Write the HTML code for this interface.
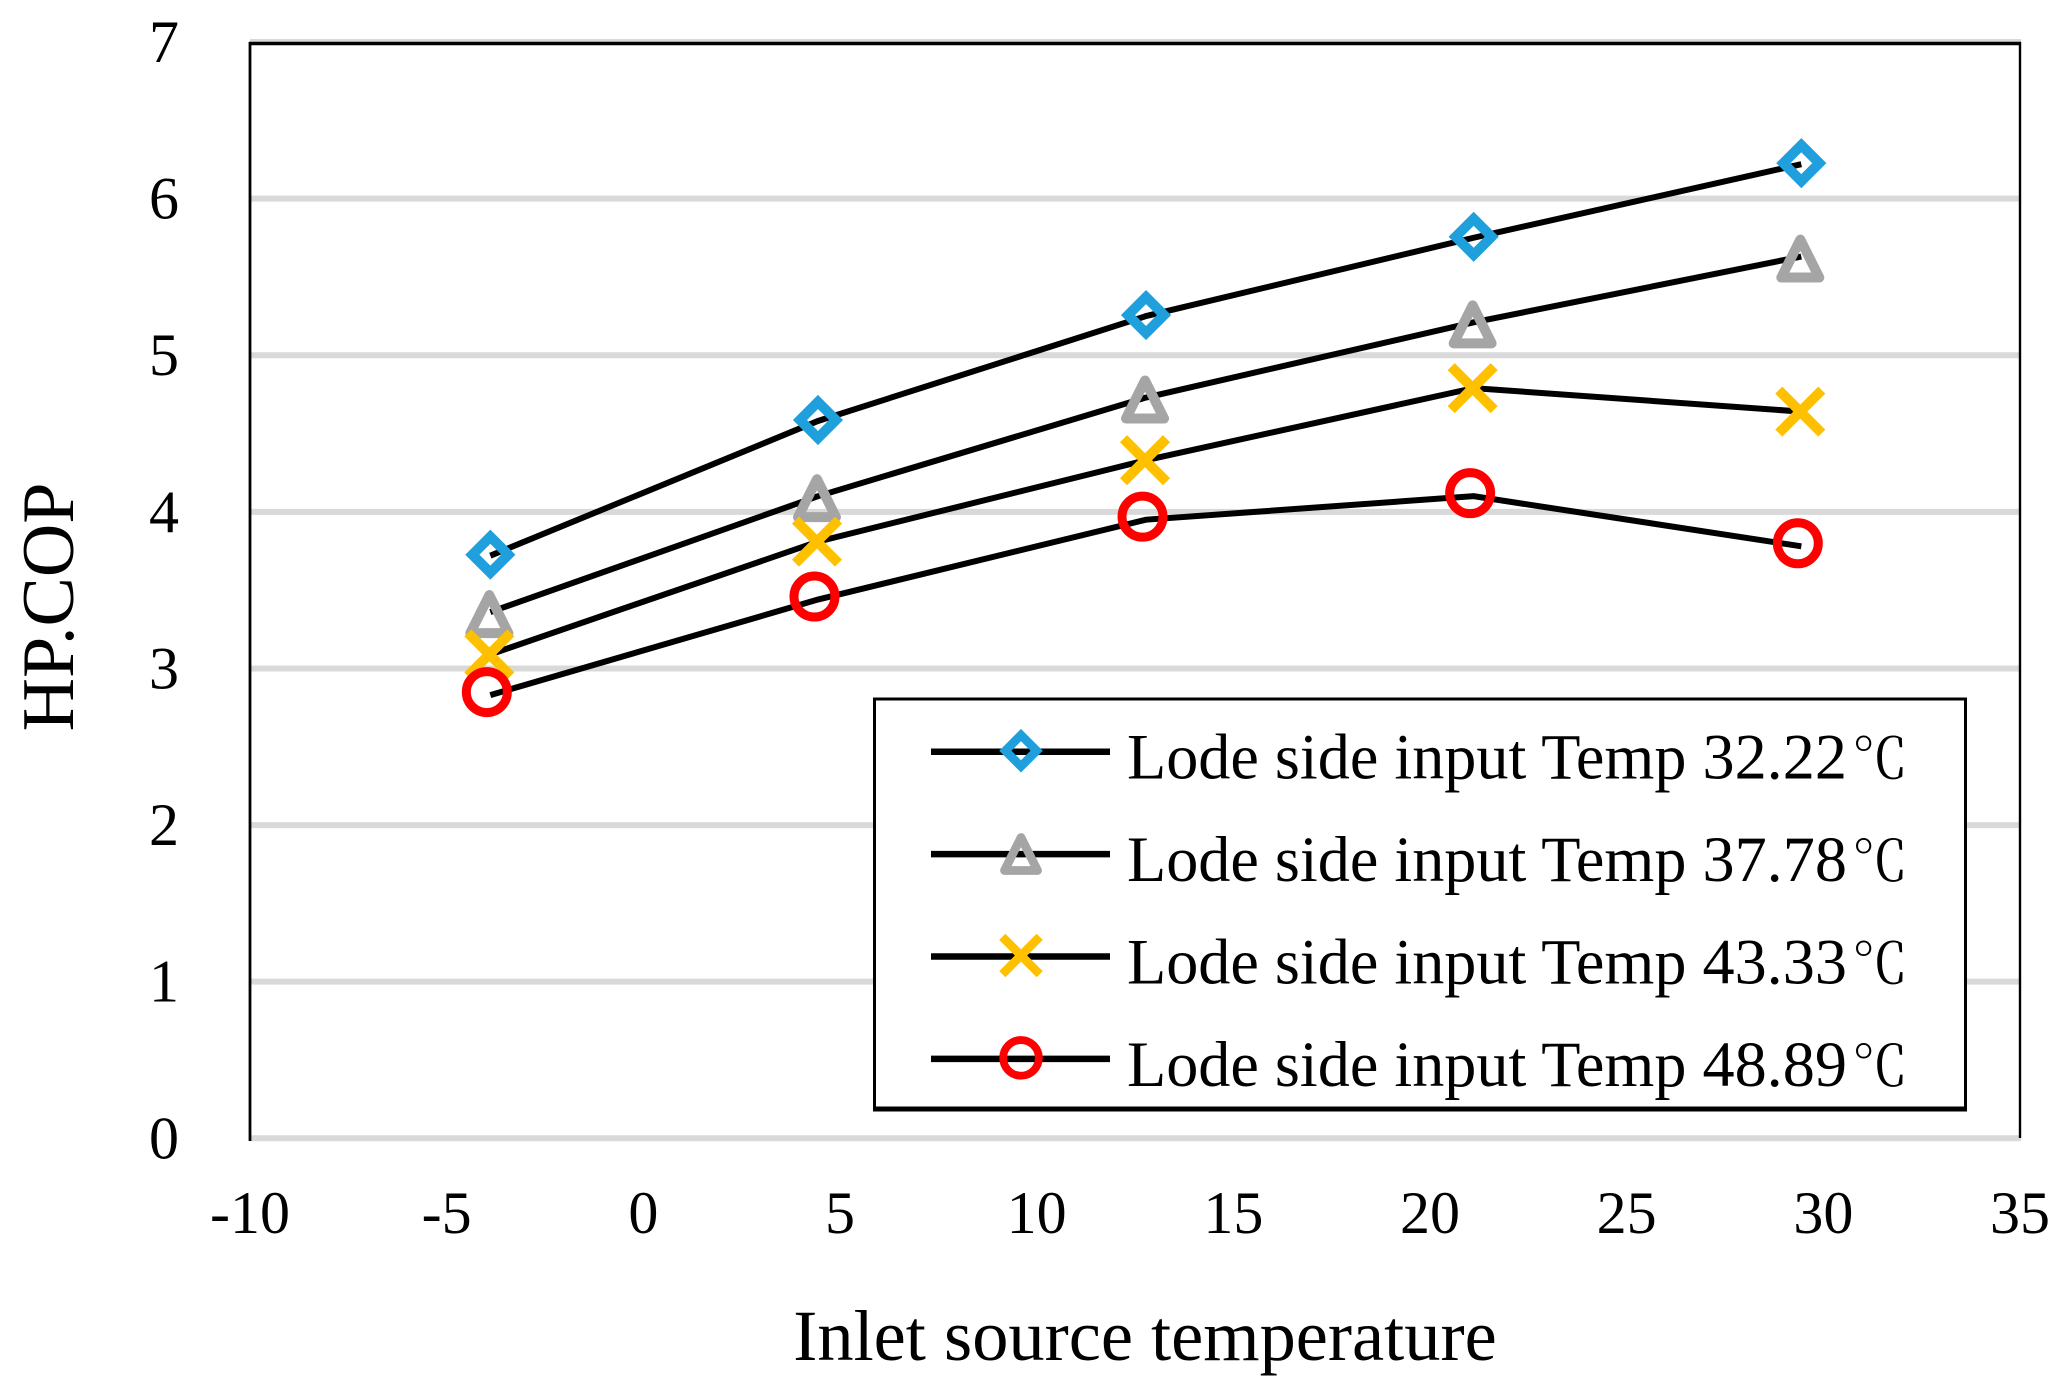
<!DOCTYPE html>
<html lang="en">
<head>
<meta charset="utf-8">
<title>HP.COP vs inlet source temperature</title>
<style>
  html, body { margin: 0; padding: 0; background: #fff; }
  svg { display: block; }
  text { font-family: "Liberation Serif", "Noto Serif CJK SC", serif; fill: #000; }
</style>
</head>
<body>
<svg id="chart" xmlns="http://www.w3.org/2000/svg" width="2060" height="1391" viewBox="0 0 2060 1391">
  <rect x="0" y="0" width="2060" height="1391" fill="#ffffff"/>
  <g id="grid"></g>
  <g id="frame"></g>
  <g id="yticks"></g>
  <g id="xticks"></g>
  <g id="series"></g>
  <g id="legend"></g>
  <text x="1145" y="1360" font-size="72.4" text-anchor="middle">Inlet source temperature</text>
  <text transform="translate(73,607) rotate(-90)" font-size="74" text-anchor="middle">HP.COP</text>
</svg>
<script>
const xTickLabels = [-10, -5, 0, 5, 10, 15, 20, 25, 30, 35];
const yTickLabels = [0, 1, 2, 3, 4, 5, 6, 7];
const sourceTemps = [-3.89, 4.44, 12.78, 21.11, 29.44];
const cop3222 = [3.72, 4.58, 5.25, 5.75, 6.22];
const cop3778 = [3.36, 4.10, 4.73, 5.21, 5.63];
const cop4333 = [3.09, 3.81, 4.33, 4.79, 4.64];
const cop4889 = [2.83, 3.44, 3.95, 4.10, 3.78];
const legendLabels = [
  'Lode side input Temp 32.22',
  'Lode side input Temp 37.78',
  'Lode side input Temp 43.33',
  'Lode side input Temp 48.89'
];
const legendUnit = '℃';

const NS = 'http://www.w3.org/2000/svg';
const plot = { left: 250, right: 2020, top: 42, bottom: 1138.3 };
const xMin = -10, xMax = 35, yMin = 0, yMax = 7;
function xScale(v) { return plot.left + (v - xMin) / (xMax - xMin) * (plot.right - plot.left); }
function yScale(v) { return plot.bottom - (v - yMin) / (yMax - yMin) * (plot.bottom - plot.top); }
function make(tag, attrs, parent) {
  const el = document.createElementNS(NS, tag);
  for (const k in attrs) el.setAttribute(k, attrs[k]);
  parent.appendChild(el);
  return el;
}

const gridG = document.getElementById('grid');
yTickLabels.forEach(function (t) {
  const ln = make('line', { x1: plot.left, x2: plot.right + 1, y1: yScale(t), y2: yScale(t), stroke: '#d9d9d9', 'stroke-width': 6 }, gridG);
  
  
});

const frameG = document.getElementById('frame');
const frameTop = make('line', { x1: 249, x2: 2021, y1: 43.5, y2: 43.5, stroke: '#000', 'stroke-width': 3.5 }, frameG);


const frameLeft = make('line', { x1: 250, x2: 250, y1: 42, y2: 1141, stroke: '#000', 'stroke-width': 2.8 }, frameG);


const frameRight = make('line', { x1: 2020, x2: 2020, y1: 42, y2: 1138, stroke: '#000', 'stroke-width': 2.4 }, frameG);



const yG = document.getElementById('yticks');
yTickLabels.forEach(function (t) {
  const tx = make('text', { x: 164, y: yScale(t) + 20, 'font-size': 60, 'text-anchor': 'middle' }, yG);
  tx.textContent = t;
  
  
});

const xG = document.getElementById('xticks');
xTickLabels.forEach(function (t) {
  const tx = make('text', { x: xScale(t), y: 1233, 'font-size': 60, 'text-anchor': 'middle' }, xG);
  tx.textContent = t;
  
  
});

function drawMarker(kind, cx, cy, s, parent) {
  const g = make('g', { transform: 'translate(' + cx + ',' + cy + ') scale(' + s + ')', fill: 'none' }, parent);
  if (kind === 'diamond') {
    make('polygon', { points: '0,-18 18,0 0,18 -18,0', stroke: '#1f9fdc', 'stroke-width': 10 }, g);
  } else if (kind === 'triangle') {
    make('polygon', { points: '0,-18 19,20 -19,20', stroke: '#a5a5a5', 'stroke-width': 10, 'stroke-linejoin': 'round' }, g);
  } else if (kind === 'cross') {
    make('path', { d: 'M-21.5,-21.5L21.5,21.5M-21.5,21.5L21.5,-21.5', stroke: '#ffc000', 'stroke-width': 10 }, g);
  } else {
    make('circle', { cx: 0, cy: 0, r: 20.5, stroke: '#ff0000', 'stroke-width': 9 }, g);
  }
  return g;
}

const seriesG = document.getElementById('series');
const seriesValues = [cop3222, cop3778, cop4333, cop4889];
const markerKinds = ['diamond', 'triangle', 'cross', 'circle'];
const markerNudgeX = [0, -1, -1, -3.5];
const markerNudgeY = [-1, 1, 0, -3];

seriesValues.forEach(function (vals, i) {
  const pts = vals.map(function (v, j) { return xScale(sourceTemps[j]) + ',' + yScale(v); }).join(' ');
  const pl = make('polyline', { points: pts, fill: 'none', stroke: '#000', 'stroke-width': 6 }, seriesG);
  
  
});
seriesValues.forEach(function (vals, i) {
  vals.forEach(function (v, j) {
    const m = drawMarker(markerKinds[i], xScale(sourceTemps[j]) + markerNudgeX[i], yScale(v) + markerNudgeY[i], 1, seriesG);
    
    
  });
});

const legendG = document.getElementById('legend');
const legendBox = make('rect', { x: 874.5, y: 699, width: 1091, height: 410, fill: '#fff', stroke: '#000', 'stroke-width': 3 }, legendG);


const legendBoxBottom = make('line', { x1: 873, x2: 1967, y1: 1109, y2: 1109, stroke: '#000', 'stroke-width': 5 }, legendG);



legendLabels.forEach(function (label, i) {
  const rowY = 751.7 + i * 102.4;
  const ln = make('line', { x1: 931, x2: 1110, y1: rowY, y2: rowY, stroke: '#000', 'stroke-width': 6.5 }, legendG);
  
  
  const m = drawMarker(markerKinds[i], 1021, rowY - 1, 0.87, legendG);
  
  
  const tx = make('text', { x: 1127, y: rowY + 27, 'font-size': 64.2 }, legendG);
  tx.textContent = label;
  
  
  const unit = make('tspan', { dx: 5, 'font-size': 56 }, tx);
  unit.textContent = legendUnit;
  
  
});
</script>
</body>
</html>
